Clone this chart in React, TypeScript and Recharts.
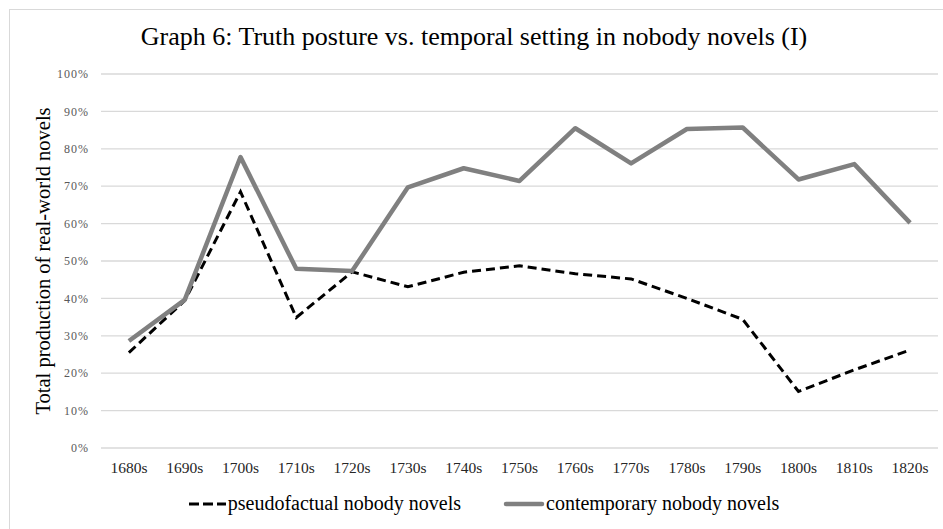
import { CartesianGrid, Legend, Line, LineChart, XAxis, YAxis } from "recharts";

const FONT = '"Liberation Serif", "Times New Roman", serif';

const decades = [
  "1680s", "1690s", "1700s", "1710s", "1720s", "1730s", "1740s", "1750s",
  "1760s", "1770s", "1780s", "1790s", "1800s", "1810s", "1820s",
];
const pseudofactual = [25.5, 39.4, 68.5, 34.9, 47.1, 43.1, 47.0, 48.7, 46.6, 45.2, 40.0, 34.4, 15.1, 20.9, 26.2];
const contemporary = [28.6, 39.6, 77.8, 47.9, 47.3, 69.7, 74.8, 71.4, 85.5, 76.1, 85.3, 85.7, 71.8, 75.9, 60.2];
const yTicks = [0, 10, 20, 30, 40, 50, 60, 70, 80, 90, 100];

const title = "Graph 6: Truth posture vs. temporal setting in nobody novels (I)";
const yLabel = "Total production of real-world novels";
const pseudoName = "pseudofactual nobody novels";
const contempName = "contemporary nobody novels";

const data = decades.map((decade, i) => ({
  decade,
  pseudofactual: pseudofactual[i],
  contemporary: contemporary[i],
}));

// serif tick text; the plain tick object fell back to a sans face
function XTick(props: any) {
  const { x, y, payload } = props;
  return (
    <text
      x={x}
      y={y}
      dy="0.71em"
      textAnchor="middle"
      style={{ fontFamily: FONT, fontSize: 15.5, fill: "#262626" }}
    >
      {payload.value}
    </text>
  );
}

function YTick(props: any) {
  const { x, y, payload } = props;
  return (
    <text
      x={x}
      y={y}
      dy="0.355em"
      textAnchor="end"
      style={{ fontFamily: FONT, fontSize: 12, fill: "#595959", letterSpacing: 1 }}
    >
      {`${payload.value}%`}
    </text>
  );
}

function LegendContent() {
  return (
    <div
      style={{
        display: "flex",
        justifyContent: "center",
        alignItems: "center",
        gap: 42,
        paddingLeft: 24,
        fontFamily: FONT,
        fontSize: 20,
        color: "#000",
        whiteSpace: "nowrap",
      }}
    >
      <span style={{ display: "flex", alignItems: "center" }}>
        <svg width={39} height={10} style={{ marginRight: 1 }}>
          <line x1={1} y1={5} x2={38} y2={5} stroke="#000" strokeWidth={3} strokeDasharray="10 4" />
        </svg>
        {pseudoName}
      </span>
      <span style={{ display: "flex", alignItems: "center" }}>
        <svg width={42} height={10} style={{ marginRight: 1 }}>
          <line x1={3} y1={5} x2={39} y2={5} stroke="#808080" strokeWidth={4.5} strokeLinecap="round" />
        </svg>
        {contempName}
      </span>
    </div>
  );
}

export default function App() {
  return (
    <div
      style={{
        position: "absolute",
        left: 0,
        top: 0,
        width: 943,
        height: 529,
        background: "#fff",
        overflow: "hidden",
      }}
    >
      <div
        style={{
          position: "absolute",
          left: 9,
          top: 9,
          width: 945,
          height: 530,
          border: "1px solid #d9d9d9",
        }}
      />
      <div
        style={{
          position: "absolute",
          left: 9,
          width: 930,
          top: 22,
          textAlign: "center",
          fontFamily: FONT,
          fontSize: 26,
          color: "#000",
          whiteSpace: "nowrap",
        }}
      >
        {title}
      </div>
      <LineChart
        width={943}
        height={529}
        data={data}
        margin={{ top: 74, right: 5, left: 41, bottom: 21 }}
        style={{ position: "absolute", left: 0, top: 0 }}
      >
        <CartesianGrid horizontal vertical={false} stroke="#d9d9d9" strokeWidth={1.3} />
        <XAxis
          dataKey="decade"
          axisLine={false}
          tickLine={false}
          height={30}
          tickMargin={8}
          interval={0}
          padding={{ left: 27.9, right: 27.9 }}
          tick={<XTick />}
        />
        <YAxis
          domain={[0, 100]}
          ticks={yTicks}
          width={60}
          axisLine={false}
          tickLine={false}
          tickMargin={6}
          tick={<YTick />}
          label={{
            value: yLabel,
            angle: -90,
            position: "insideLeft",
            offset: 2,
            style: { textAnchor: "middle", fontFamily: FONT, fontSize: 20.5, fill: "#000" },
          }}
        />
        <Legend
          verticalAlign="bottom"
          height={30}
          content={<LegendContent />}
          wrapperStyle={{ left: 0, width: 943, top: 492 }}
        />
        <Line
          type="linear"
          dataKey="pseudofactual"
          name={pseudoName}
          stroke="#000"
          strokeWidth={3}
          strokeDasharray="9 5"
          dot={false}
          isAnimationActive={false}
        />
        <Line
          type="linear"
          dataKey="contemporary"
          name={contempName}
          stroke="#808080"
          strokeWidth={4.5}
          strokeLinejoin="round"
          dot={false}
          isAnimationActive={false}
        />
      </LineChart>
    </div>
  );
}
